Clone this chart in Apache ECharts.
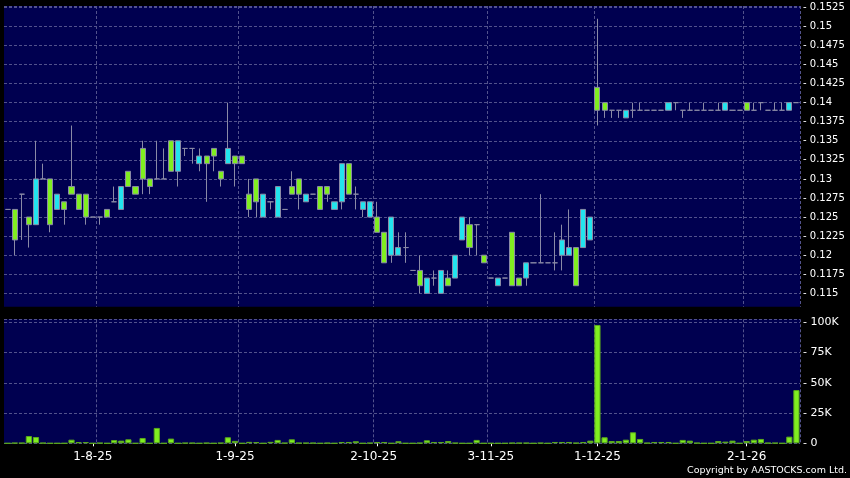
<!DOCTYPE html>
<html><head><meta charset="utf-8">
<script src="https://cdn.jsdelivr.net/npm/echarts@6/dist/echarts.min.js"></script>
<style>html,body{margin:0;padding:0;background:#000;}#c{width:850px;height:478px;}</style>
</head><body><div id="c"></div><script>
// one entry per trading slot (112 slots)
const opens = [
0.126,0.126,0.128,0.125,0.124,0.130,0.130,0.126,0.127,0.129,0.128,0.128,0.125,0.125,0.126,0.127,
0.126,0.131,0.129,0.134,0.130,0.130,0.130,0.135,0.131,0.134,0.134,0.132,0.133,0.134,0.131,0.132,
0.133,0.133,0.128,0.130,0.125,0.127,0.125,0.126,0.129,0.130,0.127,0.128,0.129,0.129,0.126,0.127,
0.132,0.128,0.126,0.125,0.125,0.123,0.120,0.120,0.121,0.118,0.118,0.115,0.117,0.115,0.117,0.117,
0.122,0.124,0.124,0.120,0.117,0.116,0.117,0.123,0.117,0.117,0.119,0.119,0.119,0.119,0.120,0.120,
0.121,0.121,0.122,0.142,0.140,0.139,0.139,0.138,0.139,0.139,0.139,0.139,0.139,0.139,0.140,0.139,
0.139,0.139,0.139,0.139,0.139,0.139,0.139,0.139,0.140,0.139,0.140,0.139,0.139,0.139,0.139,0.140];
const closes = [
0.126,0.122,0.128,0.124,0.130,0.130,0.124,0.128,0.126,0.128,0.126,0.125,0.125,0.125,0.125,0.127,
0.129,0.129,0.128,0.130,0.129,0.130,0.130,0.131,0.135,0.134,0.134,0.133,0.132,0.133,0.130,0.134,
0.132,0.132,0.126,0.127,0.128,0.127,0.129,0.126,0.128,0.128,0.128,0.128,0.126,0.128,0.127,0.132,
0.128,0.128,0.127,0.127,0.123,0.119,0.125,0.121,0.121,0.118,0.116,0.117,0.117,0.118,0.116,0.120,
0.125,0.121,0.124,0.119,0.117,0.117,0.117,0.116,0.116,0.119,0.119,0.119,0.119,0.119,0.122,0.121,
0.116,0.126,0.125,0.139,0.139,0.139,0.139,0.139,0.139,0.139,0.139,0.139,0.139,0.140,0.140,0.139,
0.139,0.139,0.139,0.139,0.139,0.140,0.139,0.139,0.139,0.139,0.140,0.139,0.139,0.139,0.140,0.140];
const lows = [
0.126,0.120,0.122,0.121,0.124,0.130,0.123,0.126,0.124,0.128,0.126,0.124,0.125,0.124,0.125,0.127,
0.126,0.129,0.128,0.128,0.128,0.130,0.130,0.131,0.129,0.133,0.132,0.131,0.127,0.131,0.129,0.132,
0.129,0.132,0.125,0.125,0.125,0.126,0.125,0.126,0.128,0.126,0.127,0.128,0.126,0.127,0.126,0.126,
0.128,0.126,0.125,0.125,0.123,0.119,0.119,0.120,0.119,0.118,0.115,0.115,0.116,0.115,0.116,0.117,
0.122,0.120,0.120,0.119,0.117,0.116,0.117,0.116,0.116,0.116,0.119,0.119,0.119,0.118,0.118,0.120,
0.116,0.121,0.122,0.137,0.138,0.138,0.138,0.138,0.138,0.139,0.139,0.139,0.139,0.139,0.139,0.138,
0.139,0.139,0.139,0.139,0.139,0.139,0.139,0.139,0.139,0.139,0.139,0.139,0.139,0.139,0.139,0.140];
const highs = [
0.126,0.126,0.128,0.125,0.135,0.132,0.130,0.128,0.127,0.137,0.128,0.128,0.125,0.125,0.126,0.129,
0.129,0.131,0.129,0.135,0.130,0.135,0.134,0.135,0.135,0.134,0.134,0.134,0.133,0.134,0.131,0.140,
0.133,0.133,0.130,0.130,0.128,0.127,0.129,0.126,0.131,0.130,0.128,0.128,0.129,0.129,0.127,0.132,
0.132,0.129,0.127,0.127,0.127,0.123,0.125,0.123,0.123,0.118,0.120,0.117,0.118,0.118,0.118,0.120,
0.125,0.125,0.124,0.120,0.117,0.117,0.117,0.123,0.117,0.119,0.119,0.128,0.119,0.123,0.124,0.126,
0.121,0.126,0.125,0.151,0.140,0.139,0.139,0.139,0.140,0.140,0.139,0.139,0.139,0.140,0.140,0.139,
0.140,0.139,0.140,0.139,0.140,0.140,0.139,0.139,0.140,0.140,0.140,0.139,0.140,0.140,0.140,0.140];
// volume in thousands
const volumes = [
0,0.3,0.3,6,5.2,0.3,0,0,0,3,1,1,0,0.3,0,2.7,
2.2,3.3,0,4.4,0,12.7,0,3.9,0,0.3,0.3,0,0.3,0,0.3,5,
2,0,1.2,1,0,1.2,2.8,0.3,3.3,0.3,0.3,0.3,0,0.3,0,1.1,
1.1,1.7,0,0.3,1.1,1.1,0,1.7,0,0,0.3,2.5,1.1,1.1,1.9,0.3,
0,0,2.8,0,0,0,0,0.3,0.3,0.3,0,0.3,0,1.1,1.1,1.1,
0.3,1.1,2.2,97.8,5,1.9,1.9,3,9.1,3.6,0.3,1.1,1.1,1.1,0,2.8,
2.2,0.3,0,0,1.9,1.4,2.2,0,1.9,3,3.6,0.3,0.3,0,5.5,44];
const tickIndex = [12, 32, 52, 68, 83, 104];
const tickLabels = ['1-8-25', '1-9-25', '2-10-25', '3-11-25', '1-12-25', '2-1-26'];
const gridLineIndex = [13, 33, 52, 68, 83, 104];
const slots = opens.map((_, i) => 'S' + i);

const candleData = opens.map((o, i) => [o, closes[i], lows[i], highs[i]]);
const gridStyle = { color: '#52528c', type: [3, 2], width: 1 };
const FONT = 'DejaVu Sans';

const chart = echarts.init(document.getElementById('c'), null, { renderer: 'canvas' });
chart.setOption({
  backgroundColor: '#000000',
  animation: false,
  grid: [
    { left: 4, width: 796, top: 6, height: 306.4, show: true, backgroundColor: '#000050', borderWidth: 0 },
    { left: 4, width: 796, top: 319.3, height: 124, show: true, backgroundColor: '#000050', borderWidth: 0 }
  ],
  xAxis: [
    { type: 'category', gridIndex: 0, data: slots, boundaryGap: true,
      axisLine: { show: false }, axisTick: { show: false }, axisLabel: { show: false },
      splitLine: { show: true, interval: (i) => gridLineIndex.includes(i), lineStyle: gridStyle } },
    { type: 'category', gridIndex: 1, data: slots, boundaryGap: true, offset: 3,
      axisLine: { show: false },
      axisTick: { show: true, alignWithLabel: true, length: 3, interval: (i) => tickIndex.includes(i), lineStyle: { color: '#ffffff' } },
      axisLabel: { show: true, interval: (i) => tickIndex.includes(i), margin: 5, color: '#ffffff', fontSize: 12, fontFamily: FONT,
        formatter: (v, i) => { const k = tickIndex.indexOf(i); if (k < 0) return ''; return k === 2 ? '{s|' + tickLabels[k] + '}' : tickLabels[k]; },
        rich: { s: { padding: [0, 7, 0, 0], color: '#ffffff', fontSize: 12, fontFamily: FONT } } },
      splitLine: { show: true, interval: (i) => gridLineIndex.includes(i), lineStyle: gridStyle } }
  ],
  yAxis: [
    { type: 'value', gridIndex: 0, position: 'right', min: 0.1125, max: 0.15267, interval: 0.0025,
      axisLine: { show: false }, axisTick: { show: false },
      splitLine: { show: true, lineStyle: gridStyle },
      axisLabel: { margin: 3, color: '#ffffff', fontSize: 10, fontFamily: FONT,
        formatter: (v) => v < 0.1149 ? '' : '- ' + String(+v.toFixed(4)) } },
    { type: 'value', gridIndex: 1, position: 'right', min: 0, max: 102.48, interval: 25,
      axisLine: { show: false }, axisTick: { show: false },
      splitLine: { show: true, lineStyle: gridStyle },
      axisLabel: { margin: 3, color: '#ffffff', fontSize: 11, fontFamily: FONT,
        formatter: (v) => '- ' + (v === 0 ? '0' : v + 'K') } }
  ],
  series: [
    { type: 'candlestick', xAxisIndex: 0, yAxisIndex: 0, data: candleData, barWidth: 5.6,
      itemStyle: { color: '#22e4ee', color0: '#80ee20', borderColor: '#8a8aa6', borderColor0: '#8a8aa6',
        borderColorDoji: '#8a8aa6', borderWidth: 1 } },
    { type: 'bar', xAxisIndex: 1, yAxisIndex: 1, data: volumes, barWidth: 6.2,
      itemStyle: { color: '#80ee20', borderColor: '#5aa81c', borderWidth: 1 } }
  ],
  graphic: [
    { type: 'rect', z: 100, shape: { x: 0, y: 306.7, width: 850, height: 6.8 }, style: { fill: '#000000' } },
    { type: 'text', z: 100, style: { text: 'Copyright by AASTOCKS.com Ltd.', x: 847, y: 471, align: 'right', verticalAlign: 'middle',
      fill: '#ffffff', font: '9.5px "DejaVu Sans"' } }
  ]
});
</script></body></html>
